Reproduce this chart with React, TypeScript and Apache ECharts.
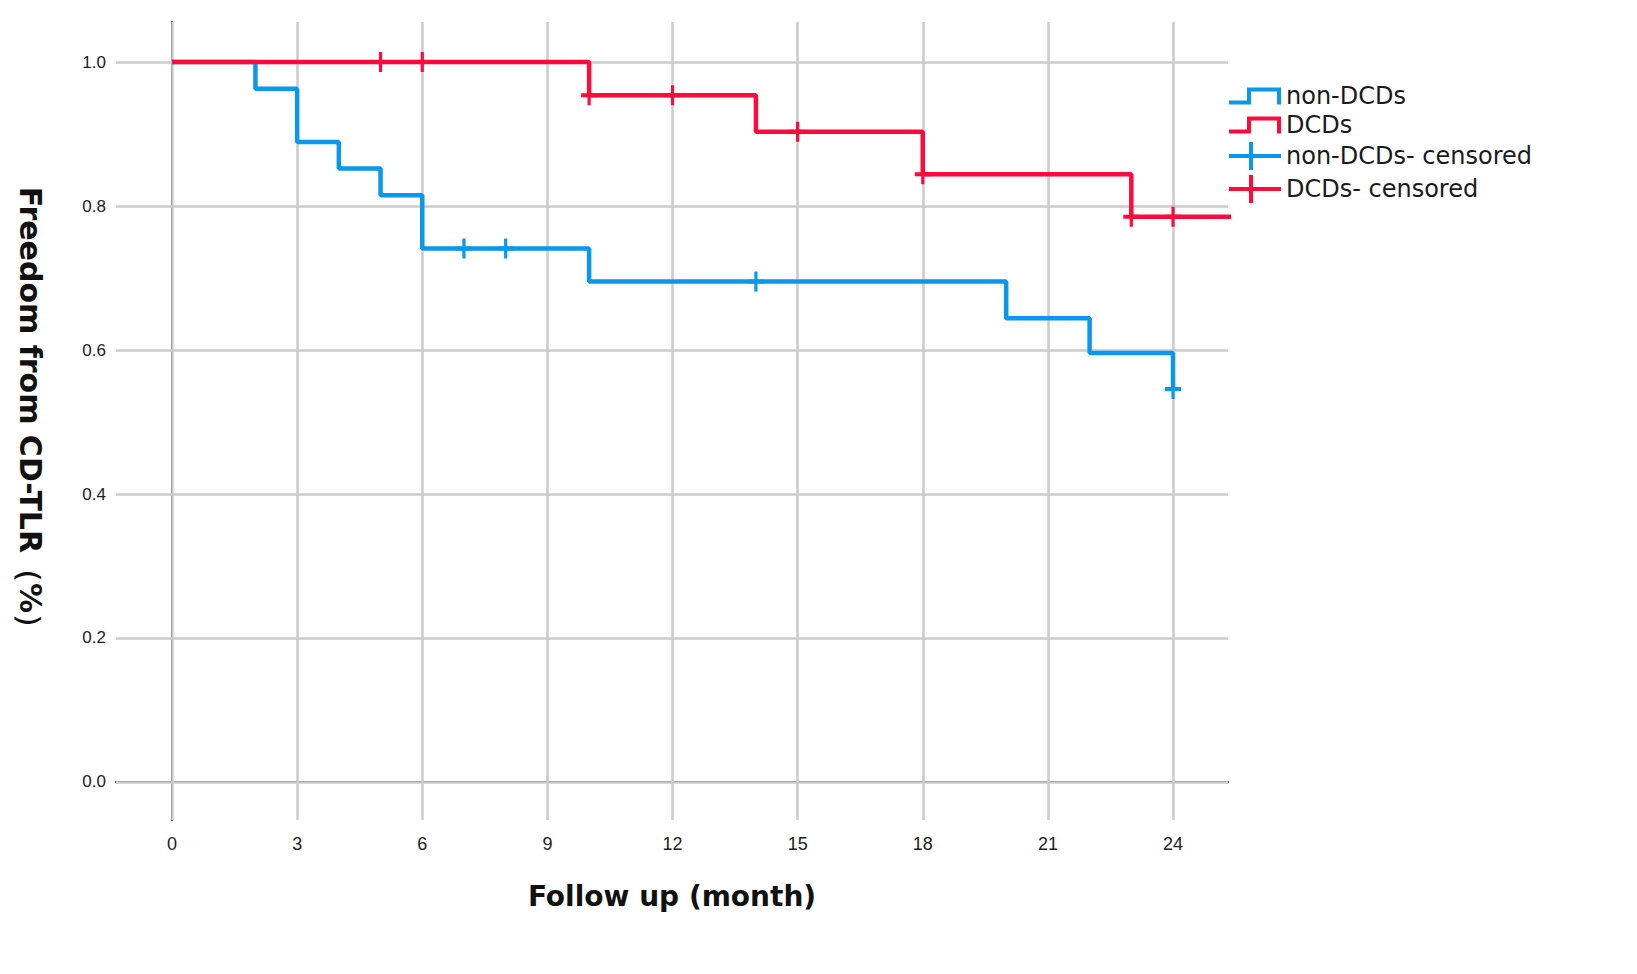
import React, { useEffect, useRef } from "react";
import * as echarts from "echarts";

// Kaplan–Meier step data (time in months, survival)
const nonDcdSteps: [number, number][] = [
  [0, 1.0], [2, 0.963], [3, 0.889], [4, 0.852], [5, 0.815], [6, 0.741],
  [10, 0.695], [20, 0.644], [22, 0.596], [24, 0.546],
];
const dcdSteps: [number, number][] = [
  [0, 1.0], [10, 0.954], [14, 0.903], [18, 0.844], [23, 0.785], [26, 0.785],
];
const nonDcdCensored: [number, number][] = [
  [7, 0.741], [8, 0.741], [14, 0.695], [24, 0.546],
];
const dcdCensored: [number, number][] = [
  [5, 1.0], [6, 1.0], [10, 0.954], [12, 0.954], [15, 0.903], [18, 0.844], [23, 0.785], [24, 0.785],
];
const xTicks = [0, 3, 6, 9, 12, 15, 18, 21, 24];
const yTicks = [0, 0.2, 0.4, 0.6, 0.8, 1.0];
const seriesNames = ["non-DCDs", "DCDs", "non-DCDs- censored", "DCDs- censored"];

const BLUE = "#0a97ee";
const RED = "#ff0a3c";
const GRIDC = "#cbcbcb";

const STEP_ICON = "path://M0,13 L18,13 L18,0 L52,0 L52,17 L48,17 L48,4 L22,4 L22,17 L0,17 Z";
const CROSS_ICON = "path://M0,12 H20 V0 H24 V12 H52 V16 H24 V28 H20 V16 H0 Z";
const PLUS = "path://M8,0 H12 V8 H20 V12 H12 V20 H8 V12 H0 V8 H8 Z";

export default function App() {
  const ref = useRef<HTMLDivElement>(null);
  useEffect(() => {
    document.body.style.margin = "0";
    const chart = echarts.init(ref.current!, null, { renderer: "svg" });
    chart.setOption({
      animation: false,
      backgroundColor: "#ffffff",
      grid: { left: 116, top: 22, right: 409, bottom: 154, containLabel: false },
      xAxis: {
        type: "value",
        min: -1.3427,
        max: 25.318,
        axisLine: { show: true, lineStyle: { color: "#3a3a3a", width: 2 } },
        axisTick: { show: false },
        splitLine: { show: false },
        axisLabel: {
          customValues: xTicks,
          margin: 15,
          color: "#222",
          fontSize: 18,
          fontFamily: "Liberation Sans",
        },
        name: "Follow up (month)",
        nameLocation: "middle",
        nameGap: 62,
        nameTextStyle: { fontSize: 28, fontWeight: "bold", color: "#111", fontFamily: "DejaVu Sans" },
      },
      yAxis: {
        type: "value",
        min: -0.0528,
        max: 1.0556,
        axisLine: { show: true, lineStyle: { color: "#3a3a3a", width: 2 } },
        axisTick: { show: false },
        splitLine: { show: false },
        axisLabel: {
          customValues: yTicks,
          formatter: (v: number) => v.toFixed(1),
          margin: 10,
          color: "#222",
          fontSize: 17,
          fontFamily: "Liberation Sans",
        },
      },
      legend: {
        orient: "vertical",
        left: 1229,
        top: 84,
        padding: 0,
        itemWidth: 52,
        itemHeight: 28,
        itemGap: 5,
        textStyle: { fontSize: 24, color: "#1a1a1a", fontFamily: "DejaVu Sans" },
        data: [
          { name: seriesNames[0], icon: STEP_ICON },
          { name: seriesNames[1], icon: STEP_ICON },
          { name: seriesNames[2], icon: CROSS_ICON },
          { name: seriesNames[3], icon: CROSS_ICON },
        ],
        selectedMode: false,
      },
      graphic: [
        {
          type: "text",
          x: 30,
          y: 415,
          rotation: -Math.PI / 2,
          style: {
            text: "Freedom from CD-TLR（%）",
            fontSize: 30,
            fontWeight: "bold",
            fontFamily: "DejaVu Sans",
            fill: "#111",
            align: "center",
            verticalAlign: "middle",
          },
        },
      ],
      series: [
        {
          type: "line",
          name: "gridlines",
          data: [],
          z: 1,
          silent: true,
          markLine: {
            silent: true,
            z: 1,
            symbol: "none",
            label: { show: false },
            lineStyle: { color: GRIDC, width: 2.5, type: "solid" },
            emphasis: { disabled: true },
            data: [
              ...xTicks.map((v) => ({ xAxis: v })),
              ...yTicks.map((v) => ({ yAxis: v })),
            ],
          },
        },
        {
          type: "line",
          name: seriesNames[0],
          step: "end",
          data: nonDcdSteps,
          showSymbol: false,
          symbol: "none",
          color: BLUE,
          lineStyle: { color: BLUE, width: 4.5 },
          z: 3,
        },
        {
          type: "line",
          name: seriesNames[1],
          step: "end",
          data: dcdSteps,
          showSymbol: false,
          symbol: "none",
          color: RED,
          lineStyle: { color: RED, width: 4.5 },
          z: 3,
        },
        {
          type: "scatter",
          name: seriesNames[2],
          data: nonDcdCensored,
          symbol: PLUS,
          symbolSize: [16, 20],
          color: BLUE,
          itemStyle: { color: BLUE, opacity: 1 },
          z: 4,
        },
        {
          type: "scatter",
          name: seriesNames[3],
          data: dcdCensored,
          symbol: PLUS,
          symbolSize: [16, 20],
          color: RED,
          itemStyle: { color: RED, opacity: 1 },
          z: 4,
        },
      ],
    });
    return () => chart.dispose();
  }, []);
  return <div ref={ref} style={{ width: 1637, height: 974 }} />;
}
